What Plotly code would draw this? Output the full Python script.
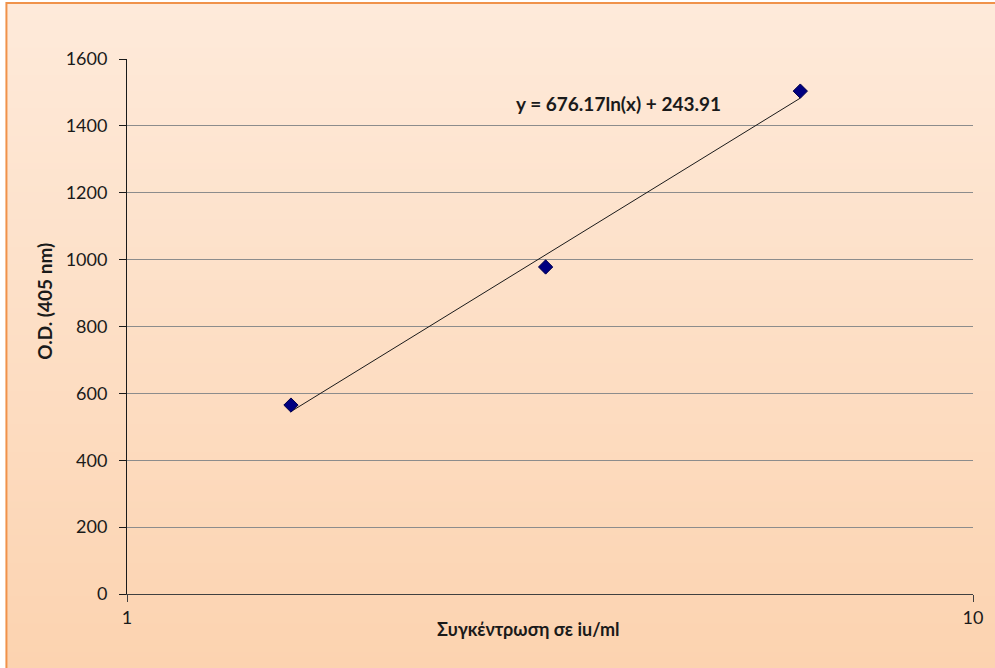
import numpy as np
import plotly.graph_objects as go

# Standard curve: concentration (iu/ml) vs optical density at 405 nm
concentration = [1.5625, 3.125, 6.25]
optical_density = [565, 978, 1504]

# Logarithmic trendline coefficients: y = a*ln(x) + b
coef_a = 676.17
coef_b = 243.91
equation_text = "y = 676.17ln(x) + 243.91"

y_ticks = [0, 200, 400, 600, 800, 1000, 1200, 1400, 1600]
x_ticks = [1, 10]

x_title = "Συγκέντρωση σε iu/ml"
y_title = "O.D. (405 nm)"

W, H = 995, 668
ML, MR, MT, MB = 127, 19, 59, 74
pw, ph = W - ML - MR, H - MT - MB


def px_to_paper_x(px):
    return (px - ML) / pw


def py_to_paper_y(py):
    return (H - MB - py) / ph


fig = go.Figure()

# Trendline evaluated from the stated coefficients over the data range
trend_x = np.linspace(min(concentration), max(concentration), 60)
trend_y = coef_a * np.log(trend_x) + coef_b
fig.add_trace(go.Scatter(
    x=trend_x, y=trend_y, mode="lines",
    line=dict(color="#1a1a1a", width=1), hoverinfo="skip", showlegend=False,
))

fig.add_trace(go.Scatter(
    x=concentration, y=optical_density, mode="markers",
    marker=dict(symbol="diamond", size=11, color="#000080",
                line=dict(color="#00004a", width=1)),
    showlegend=False,
))

# Peach vertical gradient chart background, built from thin strips
top_rgb = np.array([254, 234, 218])
bot_rgb = np.array([252, 211, 176])
y_top_px, y_bot_px = 3, H
n = 120
shapes = []
edges = np.linspace(y_top_px, y_bot_px, n + 1)
left = px_to_paper_x(6)
right = px_to_paper_x(W + 5)
for i in range(n):
    t = i / (n - 1)
    c = (top_rgb + (bot_rgb - top_rgb) * t).round().astype(int)
    shapes.append(dict(
        type="rect", xref="paper", yref="paper", layer="below",
        x0=left, x1=right,
        y0=py_to_paper_y(edges[i + 1] + 1), y1=py_to_paper_y(edges[i]),
        fillcolor=f"rgb({c[0]},{c[1]},{c[2]})", line=dict(width=0),
    ))

# Outer chart border (orange)
shapes.append(dict(
    type="rect", xref="paper", yref="paper", layer="below",
    x0=px_to_paper_x(6), x1=px_to_paper_x(W + 10),
    y0=py_to_paper_y(H + 10), y1=py_to_paper_y(3),
    fillcolor="rgba(0,0,0,0)", line=dict(color="#F0924A", width=2),
))

annotations = [
    dict(
        x=0.5807, y=1468, xref="x", yref="y",
        text=f"<b>{equation_text}</b>", showarrow=False,
        font=dict(size=19, color="#1a1a1a"),
    ),
    dict(
        x=px_to_paper_x(530), y=py_to_paper_y(642), xref="paper", yref="paper",
        text=f"<b>{x_title}</b>", showarrow=False,
        font=dict(size=18, color="#1a1a1a"),
    ),
    dict(
        x=px_to_paper_x(30), y=py_to_paper_y(301), xref="paper", yref="paper",
        text=f"<b>{y_title}</b>", showarrow=False, textangle=-90,
        font=dict(size=19, color="#1a1a1a"),
    ),
]

fig.update_layout(
    width=W, height=H,
    margin=dict(l=ML, r=MR, t=MT, b=MB),
    paper_bgcolor="white",
    plot_bgcolor="rgba(0,0,0,0)",
    font=dict(family="Lato, 'Open Sans', sans-serif", color="#1a1a1a", size=18),
    shapes=shapes,
    showlegend=False,
    xaxis=dict(
        type="log", range=[0, 1],
        tickvals=x_ticks, ticktext=[str(v) for v in x_ticks],
        ticks="outside", ticklen=7, tickcolor="#404040",
        showline=True, linecolor="#404040", linewidth=1,
        showgrid=False, zeroline=False,
        tickfont=dict(size=18),
    ),
    yaxis=dict(
        range=[0, 1600],
        tickvals=y_ticks,
        ticks="outside", ticklen=7, tickcolor="#1a1a1a",
        showline=True, linecolor="#1a1a1a", linewidth=1,
        showgrid=True, gridcolor="#8c8c8c", gridwidth=1,
        zeroline=False,
        tickfont=dict(size=18),
        ticklabelstandoff=8,
    ),
    annotations=annotations,
)

fig.write_html("out.html")
